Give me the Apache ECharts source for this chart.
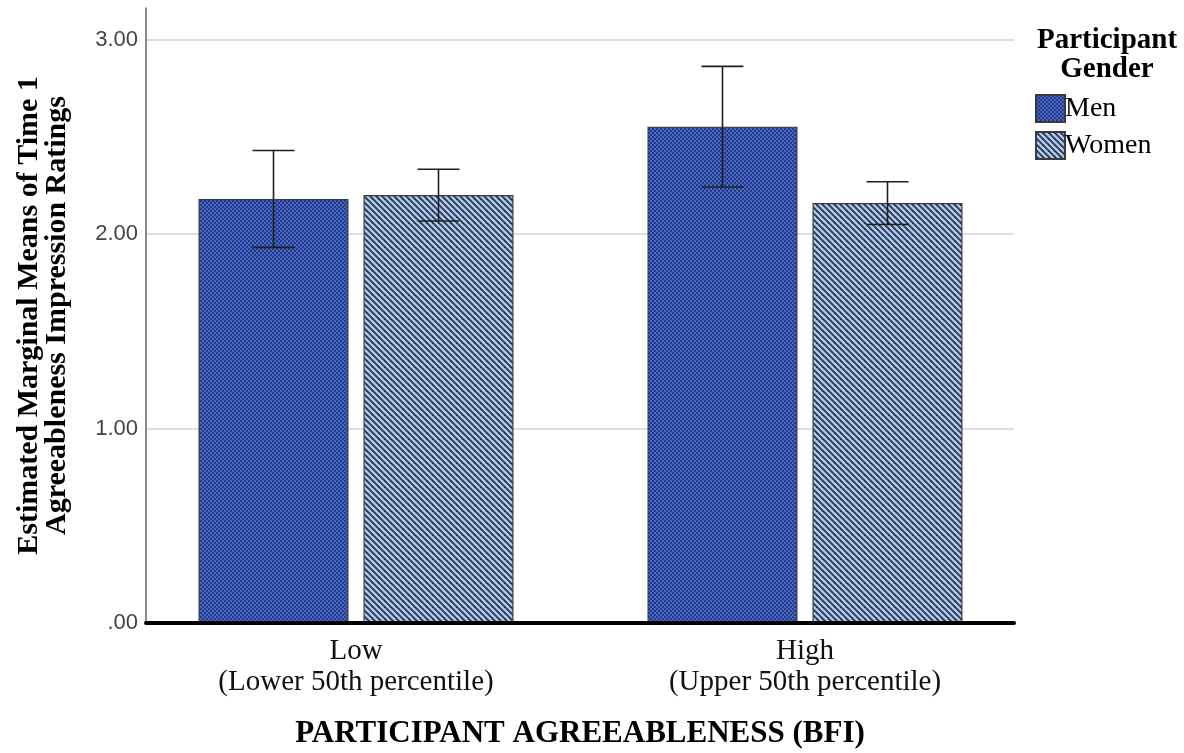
<!DOCTYPE html>
<html>
<head>
<meta charset="utf-8">
<script src="https://cdn.jsdelivr.net/npm/echarts@6/dist/echarts.min.js"></script>
<style>html,body{margin:0;padding:0;background:#fff;}#c{width:1184px;height:753px;}</style>
</head>
<body>
<div id="c"></div>
<script>
// ---- data ----
const categories = ['Low\n(Lower 50th percentile)', 'High\n(Upper 50th percentile)'];
const seriesNames = ['Men', 'Women'];
const menMeans = [2.180, 2.552];
const menErr = [0.249, 0.310];
const womenMeans = [2.200, 2.159];
const womenErr = [0.133, 0.110];
const yTicks = [0, 1, 2, 3];
const yTickLabels = ['.00', '1.00', '2.00', '3.00'];

// ---- patterns ----
function menPattern() {
  const c = document.createElement('canvas');
  c.width = 4; c.height = 4;
  const g = c.getContext('2d');
  g.fillStyle = '#4767c6'; g.fillRect(0, 0, 4, 4);
  g.fillStyle = '#253a86';
  g.fillRect(0, 0, 2, 2); g.fillRect(2, 2, 2, 2);
  return c;
}
function womenPattern() {
  const c = document.createElement('canvas');
  c.width = 6; c.height = 6;
  const g = c.getContext('2d');
  g.fillStyle = '#abc9f2'; g.fillRect(0, 0, 6, 6);
  g.strokeStyle = '#2d3446'; g.lineWidth = 1.8;
  for (const k of [-6, 0, 6]) {
    g.beginPath(); g.moveTo(k - 1, -1); g.lineTo(k + 7, 7); g.stroke();
  }
  return c;
}

const SERIF = '"Liberation Serif", "Times New Roman", serif';
const BAR_W = 150, BAR_GAP = 15;

function errorSeries(name, means, errs, sign) {
  return {
    type: 'custom', name: name + ' CI', xAxisIndex: 1, yAxisIndex: 1, z: 5, silent: true,
    data: means.map((m, i) => [i, m - errs[i], m + errs[i]]),
    renderItem: function (params, api) {
      const lo = api.coord([api.value(0), api.value(1)]);
      const hi = api.coord([api.value(0), api.value(2)]);
      const x = lo[0] + sign * (BAR_W + BAR_GAP) / 2;
      const cap = 21;
      const st = { stroke: '#1f1f1f', lineWidth: 1.6 };
      return { type: 'group', children: [
        { type: 'line', shape: { x1: x, y1: lo[1], x2: x, y2: hi[1] }, style: st },
        { type: 'line', shape: { x1: x - cap, y1: hi[1], x2: x + cap, y2: hi[1] }, style: st },
        { type: 'line', shape: { x1: x - cap, y1: lo[1], x2: x + cap, y2: lo[1] }, style: st }
      ]};
    }
  };
}

const chart = echarts.init(document.getElementById('c'), null, { renderer: 'canvas' });
chart.setOption({
  animation: false,
  backgroundColor: '#fff',
  title: {
    text: 'Participant\nGender', left: 1102, top: 21, textAlign: 'center',
    textStyle: { fontFamily: SERIF, fontWeight: 'bold', fontSize: 29, lineHeight: 29, color: '#000' }
  },
  legend: {
    data: seriesNames, orient: 'vertical', left: 1035, top: 94, padding: 0,
    itemWidth: 29, itemHeight: 27, itemGap: 8, icon: 'rect',
    textStyle: { fontFamily: SERIF, fontSize: 28, color: '#000', padding: [0, 0, 0, -5] }
  },
  grid: [
    { left: 146, right: 170, top: 39.5, bottom: 130, containLabel: false, outerBoundsMode: 'none' },
    { left: 131.5, right: 154.5, top: 39.5, bottom: 130, containLabel: false, outerBoundsMode: 'none' },
    { left: 146, right: 170, top: 8, bottom: 130, containLabel: false, outerBoundsMode: 'none' }
  ],
  xAxis: [
    { type: 'category', gridIndex: 0, data: categories, z: 10,
      axisLine: { lineStyle: { color: '#000', width: 4 } }, axisTick: { show: false }, axisLabel: { show: false },
      name: 'PARTICIPANT AGREEABLENESS (BFI)', nameLocation: 'middle', nameGap: 95, nameMoveOverlap: false,
      nameTextStyle: { fontFamily: SERIF, fontWeight: 'bold', fontSize: 31, color: '#000' } },
    { type: 'category', gridIndex: 1, data: categories,
      axisLine: { show: false }, axisTick: { show: false },
      axisLabel: { fontFamily: SERIF, fontSize: 29, lineHeight: 31, color: '#111', margin: 13 } },
    { type: 'category', gridIndex: 2, data: categories, show: false }
  ],
  yAxis: [
    { type: 'value', gridIndex: 0, min: 0, max: 3, interval: 1,
      axisLine: { show: false }, axisTick: { show: false },
      splitLine: { lineStyle: { color: '#d2d2d2', width: 1.5 } },
      axisLabel: { fontFamily: '"Liberation Sans", Arial, sans-serif', fontSize: 22, color: '#444', margin: 8,
        formatter: v => { const i = yTicks.indexOf(v); return i >= 0 ? yTickLabels[i] : ''; } } },
    { type: 'value', gridIndex: 1, min: 0, max: 3, interval: 1, show: false },
    { type: 'value', gridIndex: 2, min: 0, max: 3.16, interval: 1,
      axisLine: { show: true, lineStyle: { color: '#666', width: 1.5 } }, axisTick: { show: false },
      axisLabel: { show: false }, splitLine: { show: false },
      name: 'Estimated Marginal Means of Time 1\nAgreeableness Impression Ratings',
      nameLocation: 'middle', nameGap: 75, nameRotate: 90, nameMoveOverlap: false,
      nameTextStyle: { fontFamily: SERIF, fontWeight: 'bold', fontSize: 30, lineHeight: 28, color: '#000' } }
  ],
  series: [
    { name: 'Men', type: 'bar', xAxisIndex: 1, yAxisIndex: 1, data: menMeans,
      barWidth: BAR_W, barGap: (BAR_GAP / BAR_W * 100) + '%',
      itemStyle: { color: { image: menPattern(), repeat: 'repeat' }, borderColor: '#3a3a3a', borderWidth: 1.2 } },
    { name: 'Women', type: 'bar', xAxisIndex: 1, yAxisIndex: 1, data: womenMeans,
      barWidth: BAR_W, barGap: (BAR_GAP / BAR_W * 100) + '%',
      itemStyle: { color: { image: womenPattern(), repeat: 'repeat' }, borderColor: '#3a3a3a', borderWidth: 1.2 } },
    errorSeries('Men', menMeans, menErr, -1),
    errorSeries('Women', womenMeans, womenErr, 1)
  ]
});
</script>
</body>
</html>
